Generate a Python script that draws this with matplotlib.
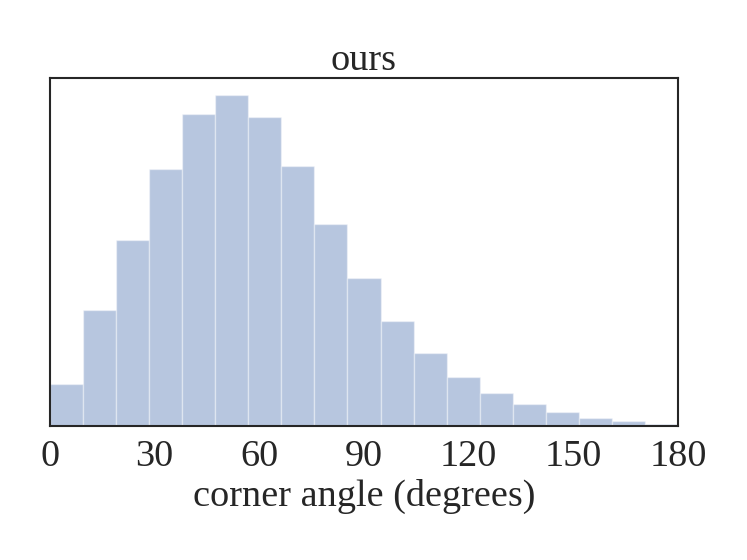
import numpy as np
import matplotlib
matplotlib.use("Agg")
import matplotlib.pyplot as plt
import seaborn as sns

sns.set_style("white")
plt.rcParams['font.family'] = ['Liberation Serif', 'DejaVu Serif']

# histogram: 19 equal bins spanning 0..180 degrees (relative heights)
bin_edges = np.linspace(0, 180, 20)
heights = [42.2, 115.2, 185.5, 255.5, 310.5, 329.8, 307.8, 259.2, 201.2, 147.2,
           104.5, 72.2, 48.8, 32.5, 21.5, 13.5, 8.2, 4.5, 2.2]
xticks = [0, 30, 60, 90, 120, 150, 180]
title = "ours"
xlabel = "corner angle (degrees)"

fig = plt.figure(figsize=(7.47, 5.6), dpi=100)
ax = fig.add_axes([50/747, (560-426)/560, 628/747, 348/560])

ax.bar(bin_edges[:-1], heights, width=np.diff(bin_edges), align='edge',
       color="#4C72B0", alpha=0.4, edgecolor="white", linewidth=1.0)

ax.set_xlim(0, 180)
ax.set_xticks(xticks)
ax.set_yticks([])
ax.tick_params(axis='x', labelsize=27.5, pad=6, colors='#262626')
ax.set_xlabel(xlabel, fontsize=27.5, color='#262626', labelpad=4)
ax.set_title(title, fontsize=27.5, color='#262626', pad=6)
for s in ax.spines.values():
    s.set_color('#262626')
    s.set_linewidth(1.5)

fig.savefig("out.png", dpi=100)
